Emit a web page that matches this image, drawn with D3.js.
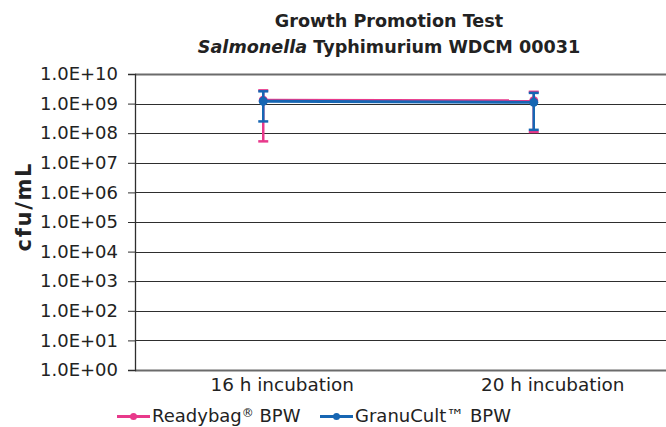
<!DOCTYPE html>
<html>
<head>
<meta charset="utf-8">
<script src="https://cdn.jsdelivr.net/npm/d3@7"></script>
<style>
  body { margin: 0; background: #fff; }
  svg { font-family: "DejaVu Sans", Verdana, sans-serif; }
</style>
</head>
<body>
<div id="chart"></div>
<script>
const categories = ['16 h incubation', '20 h incubation'];
const seriesNames = ['Readybag', 'GranuCult™ BPW'];
const seriesColors = ['#e8398b', '#1766b3'];
// means and error bar bounds, cfu/mL
const readybagMean = [1.3e9, 1.25e9];
const readybagLow = [5.3e7, 1.1e8];
const readybagHigh = [2.8e9, 2.5e9];
const granuMean = [1.2e9, 1.1e9];
const granuLow = [2.5e8, 1.3e8];
const granuHigh = [2.6e9, 2.3e9];
const yTicks = [1e0, 1e1, 1e2, 1e3, 1e4, 1e5, 1e6, 1e7, 1e8, 1e9, 1e10];

const width = 666, height = 427;
const margin = {top: 74, right: 0, bottom: 57, left: 135};

const svg = d3.select('#chart').append('svg')
    .attr('width', width)
    .attr('height', height);

const x = d3.scalePoint()
    .domain(categories)
    .range([128, 669])
    .padding(0.5);

const y = d3.scaleLog()
    .domain([1, 1e10])
    .range([height - margin.bottom, margin.top]);

// gridlines
svg.append('g').selectAll('line')
    .data(yTicks)
    .enter().append('line')
    .attr('x1', margin.left)
    .attr('x2', width)
    .attr('y1', d => Math.round(y(d)) + 0.5)
    .attr('y2', d => Math.round(y(d)) + 0.5)
    .attr('stroke', d => (d === 1 || d === 1e10) ? '#6b6b6b' : '#2e2e2e')
    .attr('stroke-width', d => (d === 1 || d === 1e10) ? 2 : 1.2);

// y axis
const yAxis = d3.axisLeft(y)
    .tickValues(yTicks)
    .tickSize(7)
    .tickFormat(d => '1.0E+' + String(Math.round(Math.log10(d))).padStart(2, '0'));

const ya = svg.append('g')
    .attr('transform', `translate(${margin.left},0)`)
    .call(yAxis);
ya.select('.domain').attr('stroke', '#2e2e2e').attr('stroke-width', 1.3);
ya.selectAll('.tick line').attr('stroke', '#2e2e2e');
ya.selectAll('.tick text')
    .attr('x', -17)
    .attr('font-size', 18)
    .attr('fill', '#222')
    .style('font-family', '"DejaVu Sans", Verdana, sans-serif');

// x labels (sit a little right of the points, as in the original)
svg.append('g').selectAll('text')
    .data(categories)
    .enter().append('text')
    .attr('x', d => x(d) + 19)
    .attr('y', 391)
    .attr('text-anchor', 'middle')
    .attr('font-size', 18.4)
    .attr('fill', '#222')
    .text(d => d);

// y title
svg.append('text')
    .attr('transform', 'translate(31,207.5) rotate(-90)')
    .attr('text-anchor', 'middle')
    .attr('font-size', 21)
    .attr('font-weight', 'bold')
    .attr('textLength', 88)
    .attr('lengthAdjust', 'spacing')
    .attr('fill', '#222')
    .text('cfu/mL');

// title
const title = svg.append('text')
    .attr('text-anchor', 'middle')
    .attr('font-size', 17.6)
    .attr('font-weight', 'bold')
    .attr('fill', '#222');
title.append('tspan').attr('x', 389).attr('y', 27).text('Growth Promotion Test');
const t2 = title.append('tspan').attr('x', 389).attr('y', 53);
t2.append('tspan').attr('font-style', 'italic').text('Salmonella');
t2.append('tspan').text(' Typhimurium WDCM 00031');

const series = [
  {name: seriesNames[0], color: seriesColors[0], mean: readybagMean, low: readybagLow, high: readybagHigh},
  {name: seriesNames[1], color: seriesColors[1], mean: granuMean, low: granuLow, high: granuHigh}
];

const line = d3.line()
    .x((d, i) => x(categories[i]))
    .y(d => y(d));

series.forEach(s => {
  const g = svg.append('g');
  // error bars
  categories.forEach((c, i) => {
    const cx = x(c);
    g.append('line')
        .attr('x1', cx).attr('x2', cx)
        .attr('y1', y(s.low[i])).attr('y2', y(s.high[i]))
        .attr('stroke', s.color).attr('stroke-width', 2.5);
    [s.low[i], s.high[i]].forEach(v => {
      g.append('line')
          .attr('x1', cx - 5).attr('x2', cx + 5)
          .attr('y1', y(v)).attr('y2', y(v))
          .attr('stroke', s.color).attr('stroke-width', 2.5);
    });
  });
  g.append('path')
      .datum(s.mean)
      .attr('d', line)
      .attr('fill', 'none')
      .attr('stroke', s.color)
      .attr('stroke-width', 3);
  g.selectAll('circle')
      .data(s.mean)
      .enter().append('circle')
      .attr('cx', (d, i) => x(categories[i]))
      .attr('cy', d => y(d))
      .attr('r', 4.5)
      .attr('fill', s.color);
});

// legend
const legendX = [117, 320];
const legend = svg.append('g').selectAll('g')
    .data(series)
    .enter().append('g')
    .attr('transform', (d, i) => `translate(${legendX[i]},416.5)`);
legend.append('line')
    .attr('x1', 0).attr('x2', 33)
    .attr('stroke', d => d.color).attr('stroke-width', 3);
legend.append('circle')
    .attr('cx', 16.5).attr('r', 3.5)
    .attr('fill', d => d.color);
const lt = legend.append('text')
    .attr('x', 35)
    .attr('y', 5)
    .attr('font-size', 18)
    .attr('fill', '#222');
lt.append('tspan').text(d => d.name);
// registered mark is set smaller and raised in the original
lt.filter((d, i) => i === 0).append('tspan')
    .attr('font-size', 12)
    .attr('dy', -5)
    .text('®');
lt.filter((d, i) => i === 0).append('tspan')
    .attr('dy', 5)
    .text(' BPW');
</script>
</body>
</html>
